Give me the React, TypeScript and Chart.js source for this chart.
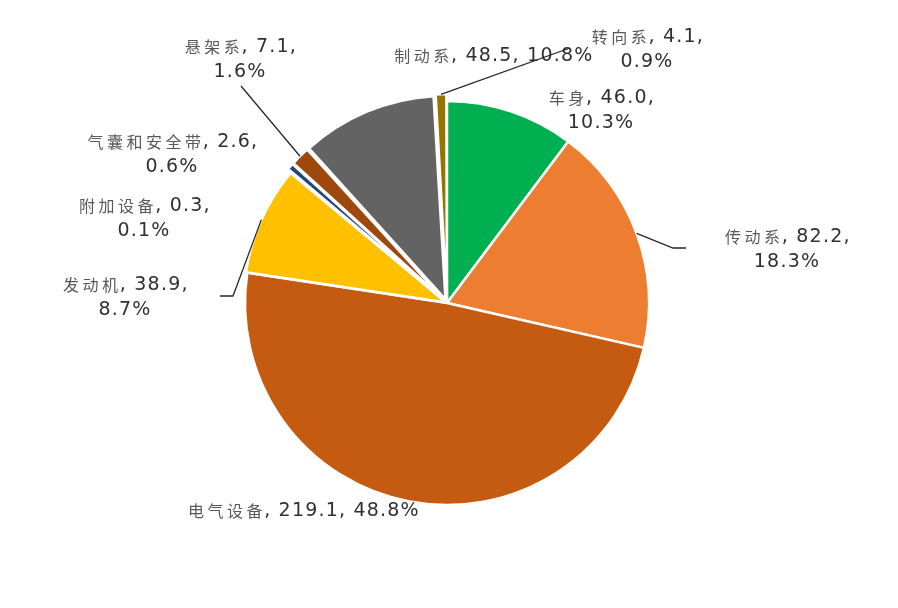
import { useEffect, useRef } from 'react';
import { Chart, PieController, ArcElement } from 'chart.js';

Chart.register(PieController, ArcElement);

const categories = ['车身', '传动系', '电气设备', '发动机', '附加设备', '气囊和安全带', '悬架系', '制动系', '转向系'];
const values = [46.0, 82.2, 219.1, 38.9, 0.3, 2.6, 7.1, 48.5, 4.1];
const percents = ['10.3%', '18.3%', '48.8%', '8.7%', '0.1%', '0.6%', '1.6%', '10.8%', '0.9%'];
const colors = ['#00B050', '#ED7D31', '#C55A11', '#FFC000', '#5B9BD5', '#264478', '#9E480E', '#636363', '#997300'];
const explode = [0, 0, 0, 4, 12, 12, 12, 16, 14];

// label placement relative to the pie centre (centre of first text line)
const labelPos = [
  [154, -205], [340, -66], [-144, 208], [-322, -18], [-303, -97],
  [-275, -161], [-207, -256], [46, -247], [200, -266],
];
const oneLine = [false, false, true, false, false, false, false, true, false];
// leader line bend/end points, relative to the pie centre
const leaders: Record<number, number[][]> = {
  1: [[226, -55], [239, -55]],
  3: [[-214, -7], [-227, -7]],
  6: [[-206, -217]],
  8: [[123, -255]],
};

const LINE_H = 25;
const CJK_CELL = 19.5;
const isCjk = (c: string) => /[\u3400-\u9fff]/.test(c);

function drawRich(ctx: CanvasRenderingContext2D, text: string, cx: number, cy: number) {
  const runs: { cjk: boolean; s: string }[] = [];
  for (const c of text) {
    const k = isCjk(c);
    if (runs.length && runs[runs.length - 1].cjk === k) runs[runs.length - 1].s += c;
    else runs.push({ cjk: k, s: c });
  }
  const latinFont = '19px "DejaVu Sans", sans-serif';
  const cjkFont = '16px "Noto Sans CJK SC", sans-serif';
  const widths = runs.map((r) => {
    if (r.cjk) return r.s.length * CJK_CELL;
    ctx.font = latinFont;
    (ctx as any).letterSpacing = '1.2px';
    return ctx.measureText(r.s).width;
  });
  let x = cx - widths.reduce((a, b) => a + b, 0) / 2;
  ctx.textBaseline = 'middle';
  runs.forEach((r, i) => {
    if (r.cjk) {
      ctx.font = cjkFont;
      (ctx as any).letterSpacing = '0px';
      ctx.fillStyle = '#595959';
      ctx.textAlign = 'center';
      for (let j = 0; j < r.s.length; j++) {
        ctx.fillText(r.s[j], x + CJK_CELL * (j + 0.5), cy);
      }
    } else {
      ctx.font = latinFont;
      (ctx as any).letterSpacing = '1.2px';
      ctx.fillStyle = '#303030';
      ctx.textAlign = 'left';
      ctx.fillText(r.s, x, cy);
    }
    x += widths[i];
  });
}

const labelPlugin = {
  id: 'pieLabels',
  afterDatasetsDraw(chart: Chart) {
    const ctx = chart.ctx;
    const meta = chart.getDatasetMeta(0);
    ctx.save();
    meta.data.forEach((el: any, i: number) => {
      const { x, y, startAngle, endAngle, outerRadius } = el.getProps(['x', 'y', 'startAngle', 'endAngle', 'outerRadius'], true);
      const off = (el.options.offset || 0) / 4;
      const circ = endAngle - startAngle;
      const fix = 1 - Math.sin(Math.min(Math.PI, circ));
      const mid = (startAngle + endAngle) / 2;
      const r = outerRadius + off + off * fix;

      const pts = leaders[i];
      if (pts) {
        ctx.beginPath();
        ctx.moveTo(x + Math.cos(mid) * r, y + Math.sin(mid) * r);
        pts.forEach((p) => ctx.lineTo(x + p[0], y + p[1]));
        ctx.strokeStyle = '#262626';
        ctx.lineWidth = 1.3;
        ctx.stroke();
      }

      const [dx, dy] = labelPos[i];
      const head = `${categories[i]}, ${values[i].toFixed(1)},`;
      if (oneLine[i]) {
        drawRich(ctx, `${head} ${percents[i]}`, x + dx, y + dy);
      } else {
        drawRich(ctx, head, x + dx, y + dy);
        drawRich(ctx, percents[i], x + dx, y + dy + LINE_H);
      }
    });
    ctx.restore();
  },
};

export default function App() {
  const canvasRef = useRef<HTMLCanvasElement>(null);

  useEffect(() => {
    if (!canvasRef.current) return;
    const chart = new Chart(canvasRef.current, {
      type: 'pie',
      data: {
        labels: categories,
        datasets: [{
          data: values,
          backgroundColor: colors,
          borderColor: '#ffffff',
          borderWidth: 2.5,
          offset: explode,
        }],
      },
      options: {
        responsive: true,
        maintainAspectRatio: false,
        animation: false,
        radius: 202,
        events: [],
        layout: { padding: { left: 0, right: 4, top: 0, bottom: 2 } },
      } as any,
      plugins: [labelPlugin],
    });
    return () => chart.destroy();
  }, []);

  return (
    <div style={{ position: 'fixed', left: 0, top: 0, width: 898, height: 608, background: '#ffffff' }}>
      <canvas ref={canvasRef} />
    </div>
  );
}
